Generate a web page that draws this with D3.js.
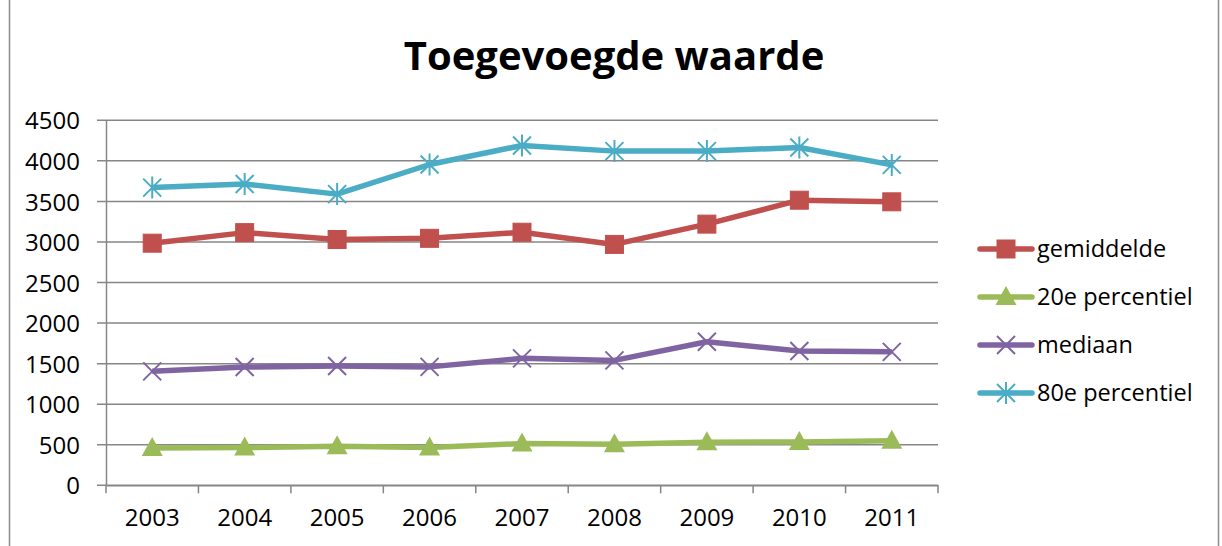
<!DOCTYPE html>
<html>
<head>
<meta charset="utf-8">
<script src="https://cdn.jsdelivr.net/npm/d3@7"></script>
<style>
  body { margin: 0; background: #fff; }
  text { font-family: "Open Sans", "Noto Sans", sans-serif; fill: #000; }
</style>
</head>
<body>
<svg id="chart" width="1222" height="546"></svg>
<script>
const years = ["2003", "2004", "2005", "2006", "2007", "2008", "2009", "2010", "2011"];
const gemiddelde = [2985, 3115, 3030, 3045, 3120, 2970, 3220, 3515, 3495];
const perc20 = [460, 465, 480, 465, 515, 505, 530, 535, 550];
const mediaan = [1405, 1458, 1470, 1460, 1565, 1540, 1770, 1655, 1645];
const perc80 = [3670, 3715, 3590, 3955, 4190, 4120, 4120, 4165, 3950];
const yTicks = [0, 500, 1000, 1500, 2000, 2500, 3000, 3500, 4000, 4500];

const series = [
    { name: "gemiddelde", values: gemiddelde, color: "#C0504D", marker: "square" },
    { name: "20e percentiel", values: perc20, color: "#9BBB59", marker: "triangle" },
    { name: "mediaan", values: mediaan, color: "#8064A2", marker: "x" },
    { name: "80e percentiel", values: perc80, color: "#4BACC6", marker: "star" }
];

const svg = d3.select("#chart");

// outer frame
svg.append("rect")
    .attr("x", 9.5).attr("y", -1)
    .attr("width", 1209).attr("height", 549)
    .attr("fill", "none")
    .attr("stroke", "#8c8c8c")
    .attr("stroke-width", 1.5);

const x = d3.scaleBand().domain(years).range([106, 938]);
const y = d3.scaleLinear().domain([0, 4500]).range([485.3, 120.3]);

// gridlines
svg.append("g")
    .selectAll("line")
    .data(yTicks)
    .enter().append("line")
    .attr("x1", 97).attr("x2", 938)
    .attr("y1", d => y(d)).attr("y2", d => y(d))
    .attr("stroke", "#868686")
    .attr("stroke-width", 1.5);

// y axis
const yAxis = svg.append("g")
    .attr("transform", "translate(106,0)")
    .call(d3.axisLeft(y).tickValues(yTicks).tickFormat(d3.format("d")).tickSize(0).tickPadding(26));
yAxis.select(".domain").attr("stroke", "#868686").attr("stroke-width", 1.5);
yAxis.selectAll("text").attr("font-size", 24).attr("dy", "0.36em");

// x axis
const xAxis = svg.append("g")
    .attr("transform", `translate(0,${y(0)})`)
    .call(d3.axisBottom(x).tickSize(0).tickPadding(24));
xAxis.select(".domain").attr("stroke", "#868686").attr("stroke-width", 1.5);
xAxis.selectAll("text").attr("font-size", 24);
// tick marks at band boundaries
svg.append("g")
    .selectAll("line")
    .data(years.concat(["end"]))
    .enter().append("line")
    .attr("x1", (d, i) => 106 + i * x.step())
    .attr("x2", (d, i) => 106 + i * x.step())
    .attr("y1", y(0)).attr("y2", y(0) + 8)
    .attr("stroke", "#868686")
    .attr("stroke-width", 1.5);

// title
svg.append("text")
    .attr("x", 614).attr("y", 70)
    .attr("text-anchor", "middle")
    .attr("font-size", 40)
    .attr("font-weight", "bold")
    .text("Toegevoegde waarde");

function drawMarker(g, type, color) {
    if (type === "square") {
        g.append("rect").attr("x", -9).attr("y", -9).attr("width", 18).attr("height", 18)
            .attr("fill", color).attr("stroke", color).attr("stroke-width", 1);
    } else if (type === "triangle") {
        g.append("path").attr("d", "M0,-11L10.5,8L-10.5,8Z").attr("fill", color);
    } else if (type === "x") {
        g.append("path").attr("d", "M-9,-9L9,9M-9,9L9,-9")
            .attr("stroke", color).attr("stroke-width", 2).attr("fill", "none");
    } else if (type === "star") {
        g.append("path").attr("d", "M-9,-9L9,9M-9,9L9,-9M0,-11L0,11")
            .attr("stroke", color).attr("stroke-width", 2).attr("fill", "none");
    }
}

const line = d3.line()
    .x((d, i) => x(years[i]) + x.bandwidth() / 2)
    .y(d => y(d));

series.forEach(s => {
    svg.append("path")
        .datum(s.values)
        .attr("d", line)
        .attr("fill", "none")
        .attr("stroke", s.color)
        .attr("stroke-width", 5.5)
        .attr("stroke-linejoin", "round");

    s.values.forEach((v, i) => {
        const g = svg.append("g")
            .attr("transform", `translate(${x(years[i]) + x.bandwidth() / 2},${y(v)})`);
        drawMarker(g, s.marker, s.color);
    });
});

// legend
const legendY = [249, 297, 345, 393];
series.forEach((s, i) => {
    const g = svg.append("g").attr("transform", `translate(0,${legendY[i]})`);
    g.append("line")
        .attr("x1", 980).attr("x2", 1032)
        .attr("stroke", s.color)
        .attr("stroke-width", 5.5)
        .attr("stroke-linecap", "round");
    const m = g.append("g").attr("transform", "translate(1006,0)");
    drawMarker(m, s.marker, s.color);
    g.append("text")
        .attr("x", 1037).attr("y", 0)
        .attr("dy", "0.35em")
        .attr("font-size", 23.5)
        .text(s.name);
});
</script>
</body>
</html>
